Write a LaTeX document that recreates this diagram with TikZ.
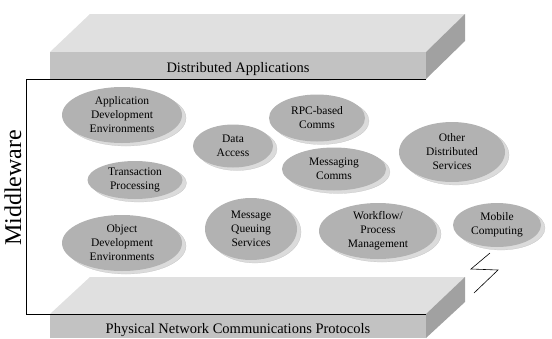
\documentclass[tikz,border=0pt]{standalone}
\usepackage{fontspec}
\setmainfont{Liberation Serif}
\usetikzlibrary{shapes.geometric,shadows}

\begin{document}
\begin{tikzpicture}[x=1pt,y=-1pt,
  sv/.style={ellipse,fill=black!30,inner sep=0pt,align=center,
    font=\fontsize{11.5}{14}\selectfont,
    general shadow={shadow xshift=4pt,shadow yshift=-3pt,fill=black!14,draw=black!25,very thin}},
  tp/.style={fill=black!12},
  fr/.style={fill=black!24},
  sd/.style={fill=black!37},
  lyr/.style={font=\fontsize{14.5}{16}\selectfont}]
  \useasboundingbox (0,0) rectangle (552,338);
  \fill[tp] (50,52) -- (90,14) -- (465,14) -- (426,52) -- cycle;
  \fill[fr] (50,52) rectangle (426,79);
  \fill[sd] (426,52) -- (465,14) -- (465,41) -- (426,79) -- cycle;
  \node[lyr] (dist) at (238,69) {Distributed Applications};
  \fill[tp] (50,314) -- (90,277) -- (465,277) -- (426,314) -- cycle;
  \fill[fr] (50,314) rectangle (426,338);
  \fill[sd] (426,314) -- (465,277) -- (465,302) -- (426,338) -- cycle;
  \node[lyr] (phys) at (238,330) {Physical Network Communications Protocols};
  \draw[line width=0.8pt] (426,79) -- (26,79) -- (26,314) -- (426,314);
  \node[rotate=90,font=\fontsize{24}{26}\selectfont] (mw) at (13,188) {Middleware};
  \node[sv,minimum width=120pt,minimum height=56pt] (ade) at (122,115) {Application\\Development\\Environments};
  \node[sv,minimum width=95pt,minimum height=38pt] (tp) at (135,180) {Transaction\\Processing};
  \node[sv,minimum width=80pt,minimum height=43pt] (da) at (233,146) {Data\\Access};
  \node[sv,minimum width=96pt,minimum height=47pt] (rpc) at (317,118) {RPC-based\\Comms};
  \node[sv,minimum width=104pt,minimum height=43pt] (msg) at (334,169) {Messaging\\Comms};
  \node[sv,minimum width=106pt,minimum height=60pt] (ods) at (452,152) {Other\\Distributed\\Services};
  \node[sv,minimum width=120pt,minimum height=56pt] (ode) at (122,243) {Object\\Development\\Environments};
  \node[sv,minimum width=92pt,minimum height=62pt] (mqs) at (251,229) {Message\\Queuing\\Services};
  \node[sv,minimum width=118pt,minimum height=56pt] (wpm) at (378,231) {Workflow/\\Process\\Management};
  \node[sv,minimum width=88pt,minimum height=44pt] (mob) at (497,225) {Mobile\\Computing};
  \draw[line width=0.6pt] (490,253) -- (471,269) -- (498,270) -- (474,293);
\end{tikzpicture}
\end{document}
